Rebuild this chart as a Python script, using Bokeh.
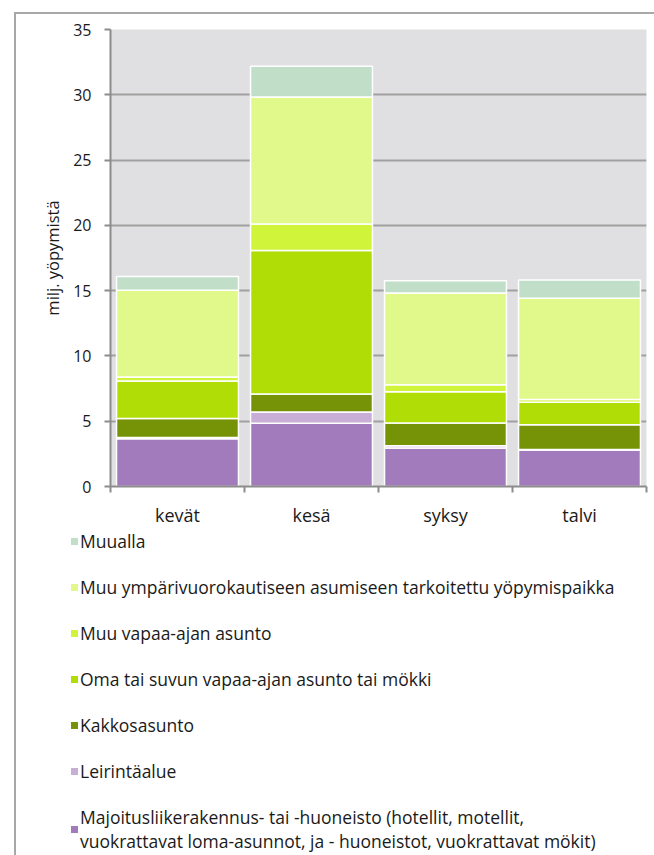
from bokeh.plotting import figure
from bokeh.models import (ColumnDataSource, Range1d, FixedTicker, Legend, LegendItem)
from bokeh.layouts import column
from bokeh.embed import file_html
from bokeh.resources import INLINE

# ---- data (milj. yöpymistä) ----
seasons = ["kevät", "kesä", "syksy", "talvi"]
majoitus = [3.65, 4.85, 2.95, 2.80]
leirinta = [0.10, 0.85, 0.18, 0.04]
kakkos = [1.45, 1.38, 1.73, 1.88]
oma_mokki = [2.88, 11.00, 2.39, 1.74]
muu_vapaa = [0.30, 2.03, 0.54, 0.20]
muu_ymp = [6.65, 9.72, 7.02, 7.76]
muualla = [1.05, 2.35, 0.95, 1.40]

series_names = [
    "Majoitusliikerakennus- tai -huoneisto (hotellit, motellit,\nvuokrattavat loma-asunnot, ja - huoneistot, vuokrattavat mökit)",
    "Leirintäalue",
    "Kakkosasunto",
    "Oma tai suvun vapaa-ajan asunto tai mökki",
    "Muu vapaa-ajan asunto",
    "Muu ympärivuorokautiseen asumiseen tarkoitettu yöpymispaikka",
    "Muualla",
]
series_values = [majoitus, leirinta, kakkos, oma_mokki, muu_vapaa, muu_ymp, muualla]
colors = ["#a17bbb", "#c8aed6", "#769206", "#b1dd07", "#d0f43a", "#e1f98b", "#c1dec8"]

keys = ["s%d" % i for i in range(len(series_names))]
data = {"x": [i + 0.5 for i in range(len(seasons))]}
for k, v in zip(keys, series_values):
    data[k] = v
source = ColumnDataSource(data)

FONT = "Open Sans"
AXIS_GRAY = "#8c8c8c"
TEXT = "#1a1a1a"

# ---------------- main chart ----------------
p = figure(width=638, height=515,
           x_range=Range1d(0, len(seasons)), y_range=Range1d(0, 35),
           output_backend="svg", toolbar_location=None,
           min_border_left=94, min_border_right=8, min_border_top=15,
           min_border_bottom=42,
           background_fill_color="#e0e0e2", border_fill_color="white",
           outline_line_color=None)
p.frame_align = False

renderers = p.vbar_stack(keys, x="x", width=0.91, source=source,
                         fill_color=colors, line_color="white", line_width=1.5)

p.yaxis.ticker = FixedTicker(ticks=[0, 5, 10, 15, 20, 25, 30, 35])
p.yaxis.axis_line_color = AXIS_GRAY
p.yaxis.axis_line_width = 2
p.yaxis.major_tick_line_color = AXIS_GRAY
p.yaxis.major_tick_line_width = 2
p.yaxis.major_tick_out = 6
p.yaxis.major_tick_in = 0
p.yaxis.minor_tick_line_color = None
p.yaxis.major_label_standoff = 13
p.yaxis.major_label_text_font = FONT
p.yaxis.major_label_text_font_size = "16px"
p.yaxis.major_label_text_color = TEXT
p.yaxis.axis_label = "milj. yöpymistä"
p.yaxis.axis_label_text_font = FONT
p.yaxis.axis_label_text_font_size = "16.5px"
p.yaxis.axis_label_text_font_style = "normal"
p.yaxis.axis_label_text_color = TEXT
p.yaxis.axis_label_standoff = 6

# x axis: labels at category centres, ticks at category boundaries
p.xaxis.ticker = FixedTicker(ticks=[i + 0.5 for i in range(len(seasons))],
                             minor_ticks=list(range(len(seasons) + 1)))
p.xaxis.major_label_overrides = {i + 0.5: s for i, s in enumerate(seasons)}
p.xaxis.axis_line_color = AXIS_GRAY
p.xaxis.axis_line_width = 2
p.xaxis.major_tick_line_color = None
p.xaxis.major_tick_out = 0
p.xaxis.major_tick_in = 0
p.xaxis.minor_tick_line_color = AXIS_GRAY
p.xaxis.minor_tick_line_width = 2
p.xaxis.minor_tick_out = 6
p.xaxis.minor_tick_in = 0
p.xaxis.major_label_standoff = 10
p.xaxis.major_label_text_font = FONT
p.xaxis.major_label_text_font_size = "18px"
p.xaxis.major_label_text_color = TEXT

p.xgrid.visible = False
p.ygrid.ticker = FixedTicker(ticks=[5, 10, 15, 20, 25, 30, 35])
p.ygrid.grid_line_color = "#a0a0a0"
p.ygrid.grid_line_width = 2

# ---------------- legend panel ----------------
lp = figure(width=638, height=326, x_range=Range1d(0, 1), y_range=Range1d(0, 1),
            output_backend="svg", toolbar_location=None,
            x_axis_type=None, y_axis_type=None,
            min_border_left=53, min_border_right=0, min_border_top=0,
            min_border_bottom=0, outline_line_color=None,
            background_fill_color="white", border_fill_color="white")
lp.frame_align = False
lp.grid.visible = False

items = []
for name, key, col in zip(series_names, keys, colors):
    r = lp.vbar(x="x", top=key, width=0.91, source=source, fill_color=col,
                line_color="white", line_width=1, visible=False)
    items.append(LegendItem(label=name, renderers=[r]))
items = items[::-1]

legend = Legend(items=items, location="top_left", orientation="vertical",
                padding=0, margin=0, spacing=22, label_height=24,
                glyph_width=10, glyph_height=10, label_standoff=1,
                label_text_font=FONT, label_text_font_size="17.5px",
                label_text_color=TEXT, inactive_fill_alpha=0,
                border_line_color=None, background_fill_alpha=0)
lp.add_layout(legend, "center")

layout = column(p, lp, spacing=0, margin=(12, 0, 0, 14))
layout.styles = {"border-left": "2px solid #a8a8a8", "border-top": "2px solid #a8a8a8"}

open("out.html", "w").write(file_html(layout, INLINE))
